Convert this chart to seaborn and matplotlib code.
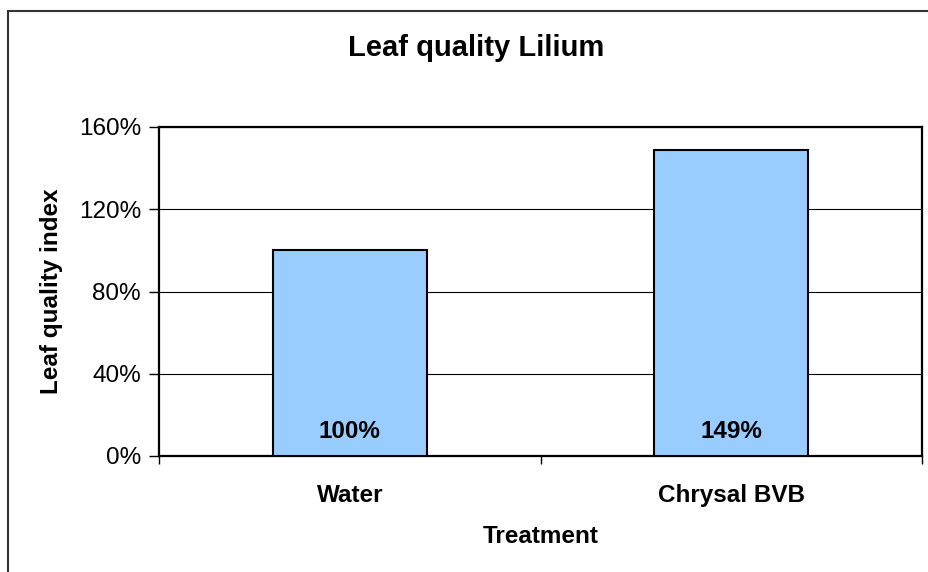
import matplotlib
matplotlib.use("Agg")
import matplotlib.pyplot as plt
import seaborn as sns
import pandas as pd
from matplotlib.patches import Rectangle
from matplotlib.ticker import FixedLocator, NullFormatter

categories = ["Water", "Chrysal BVB"]
values = [100, 149]
value_labels = ["100%", "149%"]
y_ticks = [0, 40, 80, 120, 160]
y_tick_labels = ["0%", "40%", "80%", "120%", "160%"]

sns.set_style("white")
plt.rcParams["font.family"] = ["Liberation Sans", "DejaVu Sans"]
plt.rcParams["text.color"] = "black"
plt.rcParams["axes.labelcolor"] = "black"
plt.rcParams["xtick.color"] = "black"
plt.rcParams["ytick.color"] = "black"

fig = plt.figure(figsize=(9.29, 5.72), dpi=100)
ax = fig.add_axes([159/929, 1-456/572, (922-159)/929, (456-127)/572])

df = pd.DataFrame({"Treatment": categories, "Value": values})
sns.barplot(data=df, x="Treatment", y="Value", ax=ax, color="#99CCFF",
            saturation=1, width=0.404, edgecolor="black", linewidth=1.5, zorder=3)

ax.set_xlim(-0.5, 1.5)
ax.set_ylim(0, 160)
ax.set_yticks(y_ticks)
ax.set_yticklabels(y_tick_labels, fontsize=17.5)
ax.yaxis.grid(True, color="black", linewidth=0.8, zorder=0)
ax.set_axisbelow(True)

# x ticks: boundaries marked, labels at category centers
ax.xaxis.set_major_locator(FixedLocator([-0.5, 0.5, 1.5]))
ax.xaxis.set_major_formatter(NullFormatter())
ax.xaxis.set_minor_locator(FixedLocator([0, 1]))
ax.set_xticklabels(categories, minor=True, fontsize=17.5, fontweight="bold")
ax.tick_params(axis="x", which="major", direction="out", length=6, width=1, color="black", bottom=True)
ax.tick_params(axis="x", which="minor", length=0, pad=20)
ax.tick_params(axis="y", direction="out", length=7, width=1, color="black", left=True, pad=6)

for s in ax.spines.values():
    s.set_visible(True)
    s.set_color("black")
    s.set_linewidth(1.6)

for i, lab in enumerate(value_labels):
    ax.text(i, 12, lab, ha="center", va="center", fontsize=17.5, fontweight="bold",
            color="black", zorder=5)

ax.set_xlabel("Treatment", fontsize=17.5, fontweight="bold", labelpad=13)
ax.set_ylabel("Leaf quality index", fontsize=17.5, fontweight="bold", labelpad=11)

fig.text(476/929, 1-48/572, "Leaf quality Lilium", ha="center", va="center",
         fontsize=21, fontweight="bold", color="black")

frame = Rectangle((8/929, -0.5), 2.0, (1 - 11/572) + 0.5, transform=fig.transFigure,
                  fill=False, edgecolor="#333333", linewidth=1.5)
fig.add_artist(frame)

fig.savefig("out.png", dpi=100)
